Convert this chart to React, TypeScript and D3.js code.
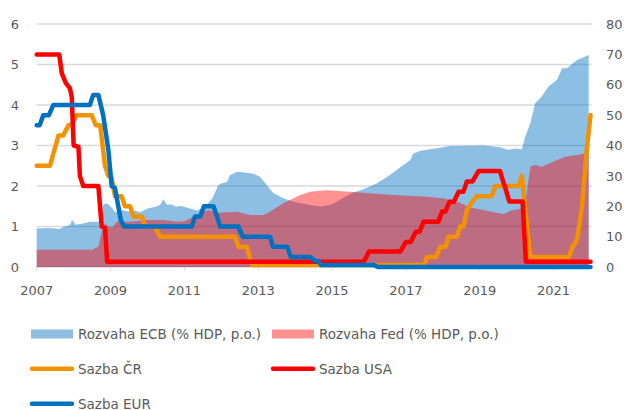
import React from 'react';
import * as d3 from 'd3';

// balance sheets, % of GDP (right axis) - [year, value]
const ecbBalance: [number, number][] = [
  [2007.0, 12.7], [2007.3, 12.8], [2007.5, 12.7], [2007.6, 12.4], [2007.75, 13.3], [2007.9, 13.8],
  [2007.96, 15.5], [2008.06, 13.9], [2008.25, 14.3], [2008.45, 14.9], [2008.7, 14.9], [2008.8, 20.5],
  [2008.9, 21.0], [2009.0, 19.9], [2009.13, 18.0], [2009.27, 18.8], [2009.5, 18.3], [2009.65, 18.6],
  [2009.8, 18.0], [2010.0, 19.3], [2010.25, 19.9], [2010.35, 20.6], [2010.43, 22.3], [2010.52, 20.6],
  [2010.65, 20.6], [2010.79, 19.8], [2010.9, 20.2], [2011.15, 19.3], [2011.34, 18.6], [2011.5, 19.5],
  [2011.6, 20.4], [2011.75, 22.5], [2011.83, 24.5], [2011.92, 27.0], [2012.0, 27.5], [2012.15, 28.0],
  [2012.24, 30.3], [2012.42, 31.3], [2012.6, 31.2], [2012.87, 30.7], [2013.05, 29.7], [2013.23, 27.0],
  [2013.41, 24.3], [2013.68, 22.6], [2013.95, 21.5], [2014.2, 20.9], [2014.45, 20.3], [2014.68, 19.9],
  [2014.95, 20.4], [2015.13, 21.5], [2015.31, 22.9], [2015.58, 24.5], [2015.85, 25.6], [2016.21, 27.5],
  [2016.57, 30.3], [2016.93, 33.6], [2017.12, 35.2], [2017.2, 37.4], [2017.39, 38.3], [2017.84, 39.1],
  [2018.2, 39.8], [2018.7, 39.9], [2019.1, 40.0], [2019.55, 39.4], [2019.75, 38.6], [2020.0, 39.0],
  [2020.14, 38.7], [2020.23, 42.9], [2020.37, 47.3], [2020.5, 53.9], [2020.68, 56.1], [2020.86, 59.4],
  [2021.09, 61.6], [2021.23, 65.4], [2021.36, 65.4], [2021.5, 66.8], [2021.63, 68.1], [2021.95, 69.8],
];

const fedBalance: [number, number][] = [
  [2007.0, 5.7], [2008.5, 5.7], [2008.67, 6.7], [2008.76, 11.6], [2008.85, 14.4], [2008.94, 13.3],
  [2009.05, 13.0], [2009.17, 14.9], [2009.53, 14.9], [2009.98, 15.5], [2010.43, 15.5], [2010.79, 14.9],
  [2011.0, 15.1], [2011.15, 16.0], [2011.43, 17.7], [2011.65, 18.8], [2011.88, 17.9], [2012.42, 18.2],
  [2012.78, 17.1], [2013.14, 17.1], [2013.32, 18.2], [2013.68, 21.0], [2014.14, 23.7], [2014.41, 24.8],
  [2014.68, 25.1], [2014.86, 25.3], [2015.76, 24.5], [2016.66, 23.7], [2017.57, 23.1], [2018.0, 22.6],
  [2018.4, 21.5], [2018.75, 19.6], [2019.1, 18.8], [2019.65, 17.4], [2019.83, 18.5], [2020.14, 19.3],
  [2020.22, 19.5], [2020.37, 33.0], [2020.5, 33.6], [2020.68, 33.0], [2021.0, 34.7], [2021.32, 36.3],
  [2021.63, 36.9], [2021.95, 37.6],
];

// policy rates, % (left axis)
const czRate: [number, number][] = [
  [2007.0, 2.5], [2007.36, 2.5], [2007.59, 3.25], [2007.72, 3.25], [2007.86, 3.5], [2007.94, 3.5],
  [2008.08, 3.75], [2008.49, 3.75], [2008.6, 3.5], [2008.72, 3.5], [2008.85, 2.5], [2008.94, 2.25],
  [2009.03, 2.2], [2009.12, 1.75], [2009.3, 1.75], [2009.39, 1.5], [2009.53, 1.5], [2009.62, 1.25],
  [2009.85, 1.25], [2009.94, 1.0], [2010.2, 1.0], [2010.34, 0.75], [2012.38, 0.75], [2012.46, 0.5],
  [2012.69, 0.5], [2012.83, 0.05], [2017.5, 0.05], [2017.57, 0.25], [2017.82, 0.25], [2017.93, 0.5],
  [2018.08, 0.5], [2018.15, 0.75], [2018.38, 0.75], [2018.47, 1.0], [2018.56, 1.0], [2018.65, 1.4],
  [2018.79, 1.6], [2018.92, 1.75], [2019.33, 1.75], [2019.42, 2.0], [2020.05, 2.0], [2020.14, 2.25],
  [2020.28, 1.0], [2020.37, 0.25], [2021.42, 0.25], [2021.51, 0.5], [2021.6, 0.6], [2021.65, 0.75],
  [2021.77, 1.5], [2021.9, 2.9], [2022.0, 3.75],
];

const usRate: [number, number][] = [
  [2007.0, 5.25], [2007.61, 5.25], [2007.68, 4.78], [2007.79, 4.54], [2007.9, 4.41], [2007.95, 4.2],
  [2008.0, 3.0], [2008.13, 2.97], [2008.17, 2.25], [2008.26, 2.0], [2008.67, 2.0], [2008.76, 1.0],
  [2008.85, 0.96], [2008.91, 0.13], [2015.86, 0.13], [2016.0, 0.38], [2016.85, 0.38], [2017.0, 0.62],
  [2017.13, 0.62], [2017.27, 0.87], [2017.37, 0.87], [2017.48, 1.12], [2017.88, 1.12], [2017.98, 1.37],
  [2018.07, 1.37], [2018.18, 1.61], [2018.3, 1.61], [2018.43, 1.86], [2018.56, 1.86], [2018.65, 2.11],
  [2018.8, 2.11], [2018.97, 2.37], [2019.55, 2.37], [2019.63, 2.12], [2019.72, 1.87], [2019.8, 1.62],
  [2020.16, 1.62], [2020.25, 0.13], [2022.0, 0.13],
];

const euRate: [number, number][] = [
  [2007.0, 3.5], [2007.08, 3.5], [2007.18, 3.75], [2007.33, 3.75], [2007.45, 4.0], [2008.44, 4.0],
  [2008.53, 4.25], [2008.67, 4.25], [2008.8, 3.75], [2008.94, 2.9], [2009.03, 2.0], [2009.12, 1.95],
  [2009.21, 1.5], [2009.28, 1.15], [2009.37, 1.0], [2011.2, 1.0], [2011.29, 1.25], [2011.43, 1.25],
  [2011.53, 1.5], [2011.79, 1.5], [2011.9, 1.2], [2011.97, 1.0], [2012.46, 1.0], [2012.58, 0.75],
  [2013.32, 0.75], [2013.4, 0.5], [2013.79, 0.5], [2013.88, 0.25], [2014.41, 0.25], [2014.54, 0.15],
  [2014.62, 0.15], [2014.7, 0.05], [2016.13, 0.05], [2016.24, 0.0], [2022.0, 0.0],
];

const xTicks = [2007, 2009, 2011, 2013, 2015, 2017, 2019, 2021];
const leftTicks = [0, 1, 2, 3, 4, 5, 6];
const rightTicks = [0, 10, 20, 30, 40, 50, 60, 70, 80];

const width = 630;
const height = 410;
const plotLeft = 36.7;
const plotRight = 590.5;
const plotTop = 24;
const plotBottom = 267;
const font = '"DejaVu Sans", Verdana, sans-serif';
const textColor = '#595959';

const colors = {
  ecb: 'rgba(0,112,192,0.45)',
  fed: 'rgba(255,0,0,0.43)',
  cz: '#F39200',
  us: '#FF0000',
  eu: '#0070C0',
};

const App = () => {
  const x = d3.scaleLinear().domain([2007, 2022]).range([plotLeft, plotRight]);
  const yL = d3.scaleLinear().domain([0, 6]).range([plotBottom, plotTop]);
  const yR = d3.scaleLinear().domain([0, 80]).range([plotBottom, plotTop]);

  const area = d3
    .area<[number, number]>()
    .x((d) => x(d[0]))
    .y0(yR(0))
    .y1((d) => yR(d[1]));
  const line = d3
    .line<[number, number]>()
    .x((d) => x(d[0]))
    .y((d) => yL(d[1]));

  const legendText = { fontFamily: font, fontSize: 13.5, fill: textColor };

  return (
    <svg width={width} height={height} style={{ position: 'absolute', left: 0, top: 0, background: '#fff' }}>
      {/* grid */}
      {leftTicks.map((t) => (
        <line key={t} x1={plotLeft} x2={plotRight + 1} y1={yL(t)} y2={yL(t)} stroke="#D9D9D9" strokeWidth={1.3} />
      ))}
      {xTicks.map((t) => (
        <line key={t} x1={x(t)} x2={x(t)} y1={plotBottom} y2={plotBottom + 4} stroke="#D9D9D9" strokeWidth={1} />
      ))}

      <path d={area(ecbBalance) ?? ''} fill={colors.ecb} />
      <path d={area(fedBalance) ?? ''} fill={colors.fed} />

      {[
        { data: czRate, c: colors.cz },
        { data: usRate, c: colors.us },
        { data: euRate, c: colors.eu },
      ].map((s, i) => (
        <path key={i} d={line(s.data) ?? ''} fill="none" stroke={s.c} strokeWidth={4.5} strokeLinejoin="round" strokeLinecap="round" />
      ))}

      {/* axes labels */}
      {leftTicks.map((t) => (
        <text key={t} x={19} y={yL(t)} dy="0.36em" textAnchor="end" fontFamily={font} fontSize={13} fill={textColor}>
          {t}
        </text>
      ))}
      {rightTicks.map((t) => (
        <text key={t} x={606} y={yR(t)} dy="0.36em" textAnchor="start" fontFamily={font} fontSize={13} fill={textColor}>
          {t}
        </text>
      ))}
      {xTicks.map((t) => (
        <text key={t} x={x(t)} y={295} textAnchor="middle" fontFamily={font} fontSize={13} fill={textColor}>
          {t}
        </text>
      ))}

      {/* legend */}
      <rect x={31} y={329.5} width={42} height={9} fill="#8DBDE0" />
      <text x={78} y={338.5} {...legendText}>Rozvaha ECB (% HDP, p.o.)</text>
      <rect x={272} y={329.5} width={42} height={9} fill="#FF9191" />
      <text x={319} y={338.5} {...legendText}>Rozvaha Fed (% HDP, p.o.)</text>

      <line x1={32} x2={72} y1={368.7} y2={368.7} stroke={colors.cz} strokeWidth={4.5} strokeLinecap="round" />
      <text x={78} y={373.5} {...legendText}>Sazba ČR</text>
      <line x1={273} x2={313} y1={368.7} y2={368.7} stroke={colors.us} strokeWidth={4.5} strokeLinecap="round" />
      <text x={319} y={373.5} {...legendText}>Sazba USA</text>

      <line x1={32} x2={72} y1={403.7} y2={403.7} stroke={colors.eu} strokeWidth={4.5} strokeLinecap="round" />
      <text x={78} y={408.5} {...legendText}>Sazba EUR</text>
    </svg>
  );
};

export default App;
